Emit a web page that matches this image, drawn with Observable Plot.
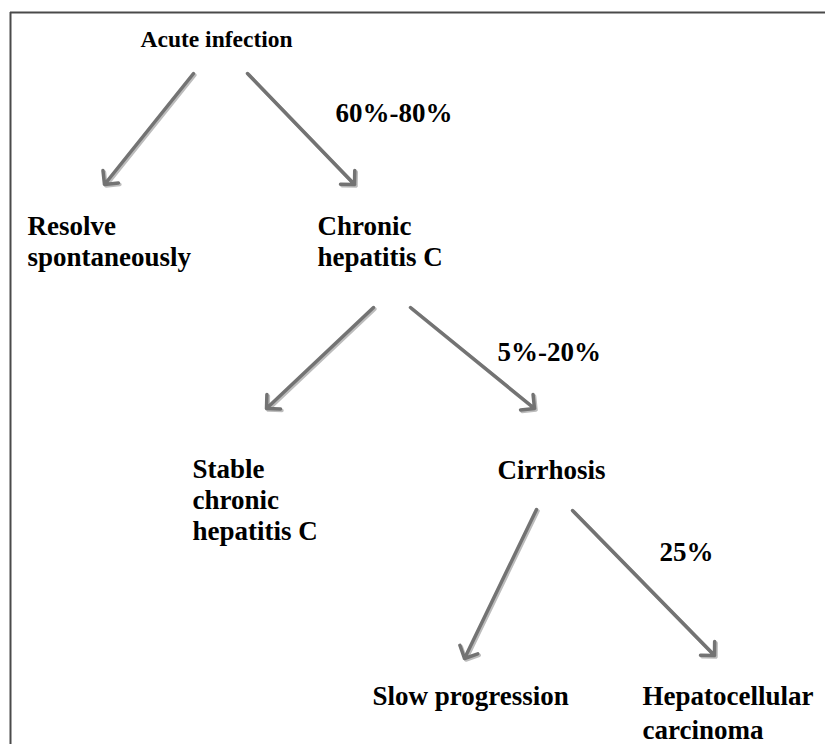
<!DOCTYPE html>
<html><head><meta charset="utf-8">
<script src="https://cdn.jsdelivr.net/npm/d3@7"></script>
<script src="https://cdn.jsdelivr.net/npm/@observablehq/plot@0.6"></script>
<style>body{margin:0;background:#fff}#c svg{display:block}</style>
</head><body><div id="c"></div>
<script>
// Nodes of the natural-history diagram (diagram coordinates: x right, y down)
const nodeNames = ["Acute infection", "Resolve\nspontaneously", "Chronic\nhepatitis C", "Stable\nchronic\nhepatitis C", "Cirrhosis", "Slow progression", "Hepatocellular\ncarcinoma"];
const nodeX = [140, 27, 317, 192, 497, 372, 642];
const nodeY = [30, 212, 212, 455, 456, 682, 681];
// Transitions: arrow endpoints
const edgeX1 = [193, 247, 373, 410, 536, 572];
const edgeY1 = [73, 73, 307, 307, 509, 510];
const edgeX2 = [104, 354, 266, 534, 464, 714];
const edgeY2 = [184, 184, 408, 408, 658, 655];
// Transition rates
const rateLabels = ["60%-80%", "5%-20%", "25%"];
const rateX = [335, 497, 659];
const rateY = [102, 341, 541];

const nodes = nodeNames.map((t, i) => ({t, x: nodeX[i], y: nodeY[i]}));
const edges = edgeX1.map((x1, i) => ({x1, y1: edgeY1[i], x2: edgeX2[i], y2: edgeY2[i]}));
const rates = rateLabels.map((t, i) => ({t, x: rateX[i], y: rateY[i]}));

const font = "'Liberation Serif', 'Times New Roman', serif";
const textOpts = {x: "x", y: "y", text: "t", textAnchor: "start", lineAnchor: "top", fontFamily: font, fontWeight: "bold", fill: "#000"};

const chart = Plot.plot({
  width: 825, height: 744, margin: 0,
  x: {domain: [0, 825], axis: null},
  y: {domain: [0, 744], reverse: true, axis: null},
  marks: [
    Plot.ruleX([10], {y1: 12, y2: 744, stroke: "#4a4a4a", strokeWidth: 2}),
    Plot.ruleY([12], {x1: 10, x2: 825, stroke: "#4a4a4a", strokeWidth: 2}),
    Plot.arrow(edges, {x1: "x1", y1: "y1", x2: "x2", y2: "y2", stroke: "#bcbcbc", strokeWidth: 3.5, headAngle: 90, headLength: 6, dx: 1.5, dy: 1.5}),
    Plot.arrow(edges, {x1: "x1", y1: "y1", x2: "x2", y2: "y2", stroke: "#737373", strokeWidth: 3.5, headAngle: 90, headLength: 6}),
    Plot.text(nodes.slice(0, 1), {...textOpts, fontSize: 23.5}),
    Plot.text(nodes.slice(1, 6), {...textOpts, fontSize: 27, lineHeight: 1.16}),
    Plot.text(nodes.slice(6), {...textOpts, fontSize: 27, lineHeight: 1.24}),
    Plot.text(rates, {...textOpts, fontSize: 27})
  ]
});
document.getElementById("c").append(chart);
</script>
</body></html>
